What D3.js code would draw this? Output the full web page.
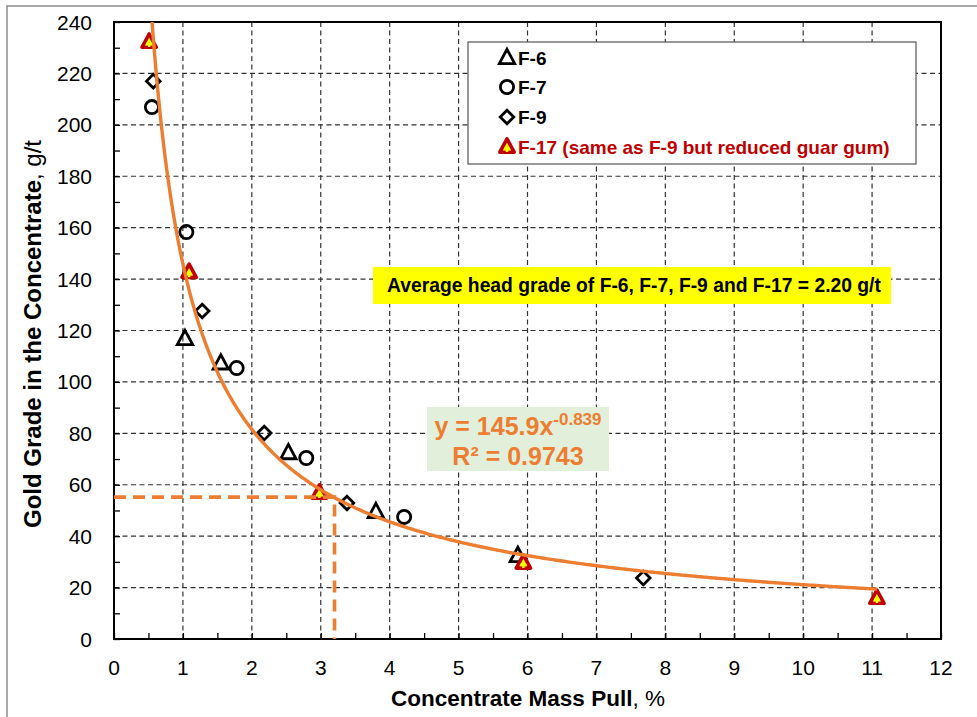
<!DOCTYPE html>
<html>
<head>
<meta charset="utf-8">
<script src="https://cdn.jsdelivr.net/npm/d3@7"></script>
<style>
  html, body { margin: 0; padding: 0; background: #fff; }
  svg { display: block; font-family: "Liberation Sans", Arial, sans-serif; }
</style>
</head>
<body>
<svg id="chart" width="977" height="717"></svg>
<script>
// ---- data ----
const xTicks = [0,1,2,3,4,5,6,7,8,9,10,11,12];
const yTicks = [0,20,40,60,80,100,120,140,160,180,200,220,240];
const seriesNames = ["F-6", "F-7", "F-9", "F-17 (same as F-9 but reduced guar gum)"];
const f6X = [1.03, 1.55, 2.53, 3.80, 5.86];
const f6Y = [116.7, 107.2, 72.3, 49.4, 32.3];
const f7X = [0.55, 1.05, 1.78, 2.79, 4.21];
const f7Y = [206.9, 158.3, 105.4, 70.4, 47.5];
const f9X = [0.57, 1.28, 2.18, 3.38, 7.68];
const f9Y = [217.0, 127.6, 80.1, 52.9, 23.7];
const f17X = [0.51, 1.09, 2.98, 5.94, 11.07];
const f17Y = [232.2, 142.7, 56.8, 29.6, 15.9];
const trendA = 145.9, trendB = -0.839;
const trendRange = [0.51, 11.07];
const refX = 3.2, refY = 55.2;
const headGradeNote = "Average head grade of F-6, F-7, F-9 and F-17 = 2.20 g/t";
const eqLine1 = "y = 145.9x", eqSup = "-0.839", eqLine2 = "R\u00B2 = 0.9743";

// ---- layout ----
const svg = d3.select("#chart");
const L = 114, R = 941, T = 22, B = 639;
const x = d3.scaleLinear().domain([0, 12]).range([L, R]);
const y = d3.scaleLinear().domain([0, 240]).range([B, T]);
const orange = "#ED7D31", red = "#C00000", yellow = "#FFFF00";

// outer frame
svg.append("path").attr("d", `M7,${717+2} L7,6 L${977+2},6`).attr("fill","none").attr("stroke","#8c8c8c").attr("stroke-width",1.5);

// grid
const g = svg.append("g");
g.selectAll(".gx").data(xTicks.filter(d => d>0 && d<12)).join("line")
  .attr("x1", d=>x(d)).attr("x2", d=>x(d)).attr("y1", T).attr("y2", B)
  .attr("stroke", "#333").attr("stroke-width", 1.2).attr("stroke-dasharray", "5,3.5");
g.selectAll(".gy").data(yTicks.filter(d => d>0 && d<240)).join("line")
  .attr("y1", d=>y(d)).attr("y2", d=>y(d)).attr("x1", L).attr("x2", R)
  .attr("stroke", "#333").attr("stroke-width", 1.2).attr("stroke-dasharray", "5,3.5");

// axes (inside ticks)
const xAxis = d3.axisBottom(x).tickValues(d3.range(0, 12.01, 0.5)).tickSize(-6).tickFormat("");
const yAxis = d3.axisLeft(y).tickValues(d3.range(0, 240.1, 10)).tickSize(-6).tickFormat("");
svg.append("g").attr("transform", `translate(0,${B})`).call(xAxis)
  .call(s => s.selectAll("line").attr("stroke","#000").attr("stroke-width",1.3))
  .call(s => s.select(".domain").remove());
svg.append("g").attr("transform", `translate(${L},0)`).call(yAxis)
  .call(s => s.selectAll("line").attr("stroke","#000").attr("stroke-width",1.3))
  .call(s => s.select(".domain").remove());
svg.append("rect").attr("x", L).attr("y", T).attr("width", R-L).attr("height", B-T)
  .attr("fill","none").attr("stroke","#000").attr("stroke-width",2);

// tick labels
svg.append("g").selectAll("text").data(xTicks).join("text")
  .attr("x", d=>x(d)).attr("y", 675).attr("text-anchor","middle")
  .attr("font-size", 21).attr("fill","#000").text(d=>d);
svg.append("g").selectAll("text").data(yTicks).join("text")
  .attr("x", 92).attr("y", d=>y(d)+7.5).attr("text-anchor","end")
  .attr("font-size", 21).attr("fill","#000").text(d=>d);

// axis titles
const xt = svg.append("text").attr("x", 528).attr("y", 706).attr("text-anchor","middle").attr("font-size", 22.5);
xt.append("tspan").attr("font-weight","bold").text("Concentrate Mass Pull");
xt.append("tspan").text(", %");
const yt = svg.append("text").attr("transform","translate(41,334) rotate(-90)").attr("text-anchor","middle").attr("font-size", 24);
yt.append("tspan").attr("font-weight","bold").text("Gold Grade in the Concentrate");
yt.append("tspan").text(", g/t");

// marker shapes
const tri = (s) => `M0,${-s*0.62} L${s*0.55},${s*0.4} L${-s*0.55},${s*0.4} Z`;
const dia = (s) => `M0,${-s} L${s},0 L0,${s} L${-s},0 Z`;
function drawTri(sel){ sel.append("path").attr("d", tri(14)).attr("fill","none").attr("stroke","#000").attr("stroke-width",2.8).attr("stroke-linejoin","miter"); }
function drawCirc(sel){ sel.append("circle").attr("r", 6.6).attr("fill","none").attr("stroke","#000").attr("stroke-width",2.8); }
function drawDia(sel){ sel.append("path").attr("d", dia(6.8)).attr("fill","none").attr("stroke","#000").attr("stroke-width",2.8); }
function drawF17(sel){
  sel.append("path").attr("d", tri(13)).attr("fill", yellow).attr("stroke", red).attr("stroke-width",3.6).attr("stroke-linejoin","round");
  sel.append("path").attr("d", "M-3,2 L3,2 M0,-1 L0,5").attr("stroke", yellow).attr("stroke-width",2.5);
}

const clip = svg.append("clipPath").attr("id","plotclip").append("rect").attr("x",L).attr("y",T).attr("width",R-L).attr("height",B-T);

function plotSeries(xs, ys, drawer){
  const gg = svg.append("g");
  xs.forEach((xv,i) => {
    const m = gg.append("g").attr("transform", `translate(${x(xv)},${y(ys[i])})`);
    drawer(m);
  });
}
plotSeries(f6X, f6Y, drawTri);
plotSeries(f7X, f7Y, drawCirc);
plotSeries(f9X, f9Y, drawDia);
plotSeries(f17X, f17Y, drawF17);

// trendline (power fit shown in chart)
const trendPts = d3.range(trendRange[0], trendRange[1] + 1e-9, (trendRange[1]-trendRange[0])/400).map(v => [v, trendA*Math.pow(v, trendB)]);
svg.append("path").datum(trendPts).attr("clip-path","url(#plotclip)")
  .attr("d", d3.line().x(d=>x(d[0])).y(d=>y(d[1])))
  .attr("fill","none").attr("stroke", orange).attr("stroke-width",3.4);

// reference dashed lines
svg.append("path").attr("d", `M${x(0)},${y(refY)} L${x(refX)},${y(refY)} L${x(refX)},${y(0)}`)
  .attr("fill","none").attr("stroke", orange).attr("stroke-width",3.6).attr("stroke-dasharray","12,7");

// legend
const lg = svg.append("g");
lg.append("rect").attr("x", 468).attr("y", 42).attr("width", 448).attr("height", 122)
  .attr("fill","#fff").attr("stroke","#555").attr("stroke-width",1.2);
const legendRows = [58, 87, 117, 147];
const legendDrawers = [drawTri, drawCirc, drawDia, drawF17];
seriesNames.forEach((nm, i) => {
  const m = lg.append("g").attr("transform", `translate(507,${legendRows[i]})`);
  legendDrawers[i](m);
  lg.append("text").attr("x", 518).attr("y", legendRows[i] + 7).attr("font-size", 19).attr("font-weight","bold")
    .attr("fill", i === 3 ? red : "#000").text(nm);
});

// head grade note
svg.append("rect").attr("x", 373).attr("y", 267).attr("width", 518).attr("height", 37).attr("fill", yellow);
svg.append("text").attr("x", 634).attr("y", 292).attr("text-anchor","middle").attr("font-size", 19.3).attr("font-weight","bold").attr("fill","#000").text(headGradeNote);

// equation box
svg.append("rect").attr("x", 427).attr("y", 407).attr("width", 182).attr("height", 64).attr("fill", "#E2EFDA");
const e1 = svg.append("text").attr("x", 518).attr("y", 435).attr("text-anchor","middle").attr("font-size", 25).attr("font-weight","bold").attr("fill", orange);
e1.append("tspan").text(eqLine1);
e1.append("tspan").attr("font-size", 17).attr("dy", -10).text(eqSup);
svg.append("text").attr("x", 518).attr("y", 465).attr("text-anchor","middle").attr("font-size", 25).attr("font-weight","bold").attr("fill", orange).text(eqLine2);
</script>
</body>
</html>
